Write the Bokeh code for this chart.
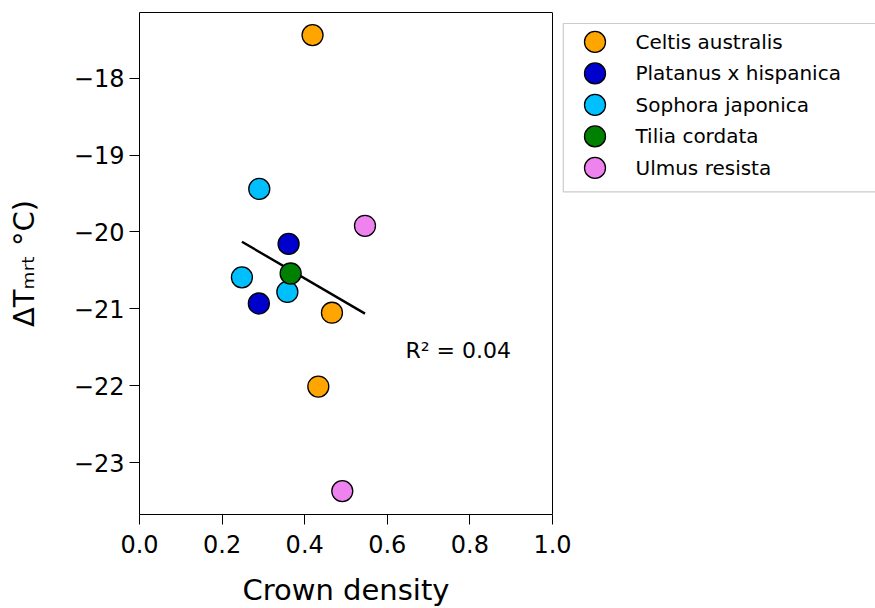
import numpy as np
from bokeh.plotting import figure
from bokeh.models import Range1d, FixedTicker, Label, LinearAxis, Span, Title
from bokeh.core.properties import value
from bokeh.embed import file_html
from bokeh.resources import INLINE

# ---- data ----
species = ["Celtis australis", "Platanus x hispanica", "Sophora japonica",
           "Tilia cordata", "Ulmus resista"]
colors = ["#FFA500", "#0000CD", "#00BFFF", "#008000", "#EE82EE"]

celtis_x = [0.419, 0.466, 0.433]
celtis_y = [-17.44, -21.05, -22.01]
platanus_x = [0.361, 0.289]
platanus_y = [-20.155, -20.93]
sophora_x = [0.290, 0.248, 0.358]
sophora_y = [-19.44, -20.59, -20.78]
tilia_x = [0.366]
tilia_y = [-20.54]
ulmus_x = [0.546, 0.491]
ulmus_y = [-19.92, -23.37]

xs = [celtis_x, platanus_x, sophora_x, tilia_x, ulmus_x]
ys = [celtis_y, platanus_y, sophora_y, tilia_y, ulmus_y]

x_ticks = [0.0, 0.2, 0.4, 0.6, 0.8, 1.0]
x_tick_labels = ["0.0", "0.2", "0.4", "0.6", "0.8", "1.0"]
y_ticks = [-23, -22, -21, -20, -19, -18]
y_tick_labels = ["\u221223", "\u221222", "\u221221", "\u221220", "\u221219", "\u221218"]

r2_text = "R\u00b2 = 0.04"
x_label = "Crown density"
y_label = "\u0394T\u2098\u1d63\u209c \u00b0C)"

FONT = "DejaVu Sans"

# ---- layout (pixels) ----
W, H = 875, 608
FRAME_L, FRAME_T, FRAME_B = 139, 12.3, 514.3
AXES_W = 413.0                       # width of the axes box (x from 0 to 1)
X_MAX = (W - FRAME_L) / AXES_W       # frame extends to the right edge for the legend
Y_MIN, Y_MAX = -23.674, -17.146

p = figure(width=W, height=H, output_backend="svg", toolbar_location=None,
           x_range=Range1d(0.0, X_MAX), y_range=Range1d(Y_MIN, Y_MAX),
           min_border_left=FRAME_L, min_border_right=0,
           min_border_top=12, min_border_bottom=H - 514)
p.extra_x_ranges = {"px": Range1d(FRAME_L, W)}
p.extra_y_ranges = {"px": Range1d(FRAME_B, FRAME_T)}
p.background_fill_color = "white"
p.border_fill_color = "white"
p.grid.visible = False
p.outline_line_color = None

for ax in (p.xaxis[0], p.yaxis[0]):
    ax.major_label_text_font = FONT
    ax.major_label_text_font_size = "24px"
    ax.major_label_text_color = "black"
    ax.axis_label_text_font = FONT
    ax.axis_label_text_font_size = "29px"
    ax.axis_label_text_font_style = "normal"
    ax.axis_label_text_color = "black"
    ax.axis_line_color = "black"
    ax.axis_line_width = 1
    ax.major_tick_line_color = "black"
    ax.major_tick_out = 10
    ax.major_tick_in = 0
    ax.minor_tick_line_color = None

p.xaxis.bounds = (0.0, 1.0)
p.xaxis.major_label_standoff = 10
p.yaxis.major_label_standoff = 5
p.xaxis.ticker = FixedTicker(ticks=x_ticks)
p.xaxis.major_label_overrides = {t: l for t, l in zip(x_ticks, x_tick_labels)}
p.yaxis.ticker = FixedTicker(ticks=y_ticks)
p.yaxis.major_label_overrides = {t: l for t, l in zip(y_ticks, y_tick_labels)}
p.yaxis.axis_label = y_label
p.yaxis.axis_label_standoff = 30

# small blank spacer under the x tick labels
p.xaxis.axis_label = " "
p.xaxis.axis_label_text_font_size = "6px"
p.xaxis.axis_label_standoff = 5

# x-axis label: a title below the axis, placed under the axes box
p.add_layout(Title(text=x_label, align="left", offset=103, standoff=0,
                   text_font=FONT, text_font_size="29px",
                   text_font_style="normal", text_color="black"), "below")

# top and right spines of the axes box
top_axis = LinearAxis(bounds=(0.0, 1.0), ticker=FixedTicker(ticks=[]),
                      axis_line_color="black", axis_line_width=1,
                      major_tick_line_color=None, minor_tick_line_color=None,
                      major_label_text_font_size="0px")
p.add_layout(top_axis, "above")
p.add_layout(Span(location=1.0, dimension="height", line_color="black",
                  line_width=1))

# regression line (least squares over all points)
all_x = np.concatenate([np.asarray(a, float) for a in xs])
all_y = np.concatenate([np.asarray(a, float) for a in ys])
slope, intercept = np.polyfit(all_x, all_y, 1)
lx = np.array([all_x.min(), all_x.max()])
p.line(lx, slope * lx + intercept, line_color="black", line_width=2.4)

for name, col, x, y in zip(species, colors, xs, ys):
    p.scatter(x, y, size=21, fill_color=col, line_color="black",
              line_width=1.3, marker="circle")

p.add_layout(Label(x=0.644, y=-21.545, text=r2_text, text_font=FONT,
                   text_font_size="22px", text_align="left",
                   text_baseline="middle", text_color="black"))

# ---- legend (drawn in a pixel coordinate system) ----
LEG_L, LEG_T, LEG_B = 562.8, 23.3, 191.7
ROW0, ROW_STEP = 41.7, 31.5
MARK_X, TEXT_X = 594.5, 635.0
rows = ROW0 + ROW_STEP * np.arange(len(species))

p.quad(left=[LEG_L], right=[W + 20], top=[LEG_T], bottom=[LEG_B],
       fill_color="white", line_color="#cccccc", line_width=1.2,
       x_range_name="px", y_range_name="px")
p.scatter(x=[MARK_X] * len(species), y=rows, size=21, fill_color=colors,
          line_color="black", line_width=1.3, marker="circle",
          x_range_name="px", y_range_name="px")
p.text(x=[TEXT_X] * len(species), y=rows, text=species,
       text_font=value(FONT), text_font_size=value("20px"),
       text_baseline="middle", text_align="left", text_color="black",
       x_range_name="px", y_range_name="px")

open("out.html", "w").write(file_html(p, INLINE))
